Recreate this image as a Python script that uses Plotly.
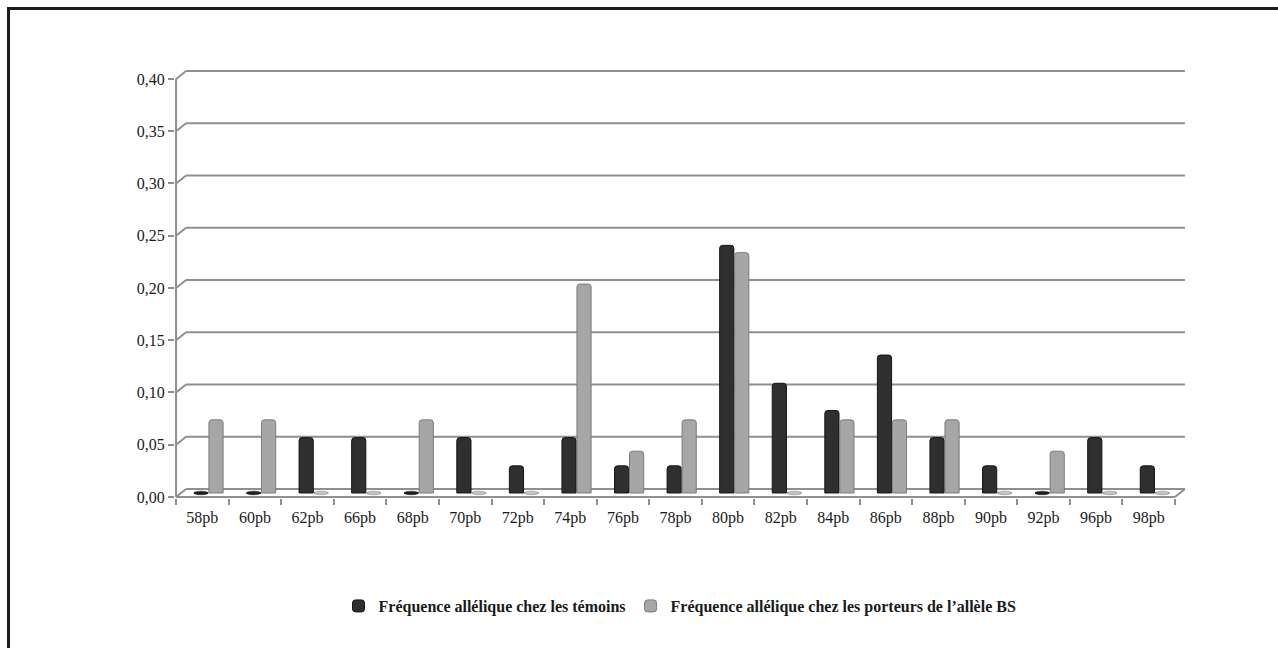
import plotly.graph_objects as go

# Allele sizes and frequencies
categories = ["58pb", "60pb", "62pb", "66pb", "68pb", "70pb", "72pb", "74pb", "76pb", "78pb",
              "80pb", "82pb", "84pb", "86pb", "88pb", "90pb", "92pb", "96pb", "98pb"]
temoins = [0, 0, 0.053, 0.053, 0, 0.053, 0.026, 0.053, 0.026, 0.026,
           0.237, 0.105, 0.079, 0.132, 0.053, 0.026, 0, 0.053, 0.026]
porteurs = [0.07, 0.07, 0, 0, 0.07, 0, 0, 0.20, 0.04, 0.07,
            0.23, 0, 0.07, 0.07, 0.07, 0, 0.04, 0, 0]
y_ticks = [0.00, 0.05, 0.10, 0.15, 0.20, 0.25, 0.30, 0.35, 0.40]
y_tick_labels = ["0,00", "0,05", "0,10", "0,15", "0,20", "0,25", "0,30", "0,35", "0,40"]
series_names = ["Fréquence allélique chez les témoins",
                "Fréquence allélique chez les porteurs de l’allèle BS"]

# Pseudo-3D box geometry (half depth of the box, in axis units)
DX = 0.095
DY = 0.0038
PADX = 0.02
PADY = 0.001
BAR_W = 0.27
OFFSETS = [-0.12, 0.165]
FILL = ["#2f2f2f", "#a6a6a6"]
EDGE = ["#151515", "#7c7c7c"]
ZERO_FILL = ["#1e1e1e", "#c4c4c4"]
GRID = "#8f8f8f"
SERIF = "Liberation Serif"

W, H = 1278, 648
ML, MR, MT, MB = 175, 92, 70, 150
n = len(categories)
ymax = y_ticks[-1]


def px_x(p):
    return (p - ML) / (W - ML - MR)


def px_y(p):
    return ((H - MB) - p) / (H - MT - MB)


fig = go.Figure()

series = [temoins, porteurs]
for k, vals in enumerate(series):
    fig.add_trace(go.Bar(
        x=[i + OFFSETS[k] for i in range(n)],
        y=vals,
        width=BAR_W,
        name="<b>" + series_names[k] + "</b>",
        marker=dict(color=FILL[k], line=dict(color=EDGE[k], width=1), cornerradius=3),
        hoverinfo="skip",
    ))

shapes = []
line_style = dict(color=GRID, width=2)
# back wall gridlines with their diagonal link to the front axis
for v in y_ticks:
    shapes.append(dict(type="line", xref="x", yref="y", layer="below",
                       x0=-0.5 + DX, x1=n - 0.5 + DX, y0=v + DY, y1=v + DY, line=line_style))
    shapes.append(dict(type="line", xref="x", yref="y", layer="below",
                       x0=-0.5 - DX, x1=-0.5 + DX, y0=v - DY, y1=v + DY, line=line_style))
# floor front edge and right edge
shapes.append(dict(type="line", xref="x", yref="y", layer="below",
                   x0=-0.5 - DX, x1=n - 0.5 - DX, y0=-DY, y1=-DY, line=line_style))
shapes.append(dict(type="line", xref="x", yref="y", layer="below",
                   x0=n - 0.5 - DX, x1=n - 0.5 + DX, y0=-DY, y1=DY, line=line_style))
# front vertical axis edge
shapes.append(dict(type="line", xref="x", yref="y", layer="below",
                   x0=-0.5 - DX, x1=-0.5 - DX, y0=-DY, y1=ymax - DY, line=line_style))

# flat discs for the zero-frequency alleles
for k, vals in enumerate(series):
    for i, v in enumerate(vals):
        if v == 0:
            xc = i + OFFSETS[k]
            shapes.append(dict(type="circle", xref="x", yref="y", layer="above",
                               x0=xc - BAR_W / 2, x1=xc + BAR_W / 2, y0=-0.0017, y1=0.0017,
                               fillcolor=ZERO_FILL[k], line=dict(color=EDGE[k], width=0.5)))

# outer frame (top and left edges)
frame = dict(color="#1c1c1c", width=3)
shapes.append(dict(type="line", xref="paper", yref="paper",
                   x0=px_x(7), x1=px_x(W), y0=px_y(8.5), y1=px_y(8.5), line=frame))
shapes.append(dict(type="line", xref="paper", yref="paper",
                   x0=px_x(8.5), x1=px_x(8.5), y0=px_y(7), y1=px_y(H), line=frame))

fig.update_layout(
    width=W, height=H,
    margin=dict(l=ML, r=MR, t=MT, b=MB, pad=0),
    paper_bgcolor="white", plot_bgcolor="white",
    barmode="overlay",
    showlegend=True,
    shapes=shapes,
    font=dict(family=SERIF, size=16, color="#1a1a1a"),
    xaxis=dict(
        range=[-0.5 - DX - PADX, n - 0.5 + DX + PADX],
        tickmode="array",
        tickvals=[i - DX for i in range(n)],
        ticktext=categories,
        ticks="outside", ticklen=0,
        ticklabelstandoff=5,
        minor=dict(tickmode="array", tickvals=[i - 0.5 - DX for i in range(n + 1)],
                   ticks="outside", ticklen=6, tickwidth=1.5, tickcolor=GRID),
        showgrid=False, zeroline=False, showline=False,
        tickfont=dict(family=SERIF, size=16, color="#1a1a1a"),
        fixedrange=True,
    ),
    yaxis=dict(
        range=[-DY - PADY, ymax + DY + PADY],
        tickmode="array",
        tickvals=[v - DY for v in y_ticks],
        ticktext=y_tick_labels,
        ticks="outside", ticklen=6, tickwidth=1.5, tickcolor=GRID,
        ticklabelstandoff=0,
        showgrid=False, zeroline=False, showline=False,
        tickfont=dict(family=SERIF, size=16, color="#1a1a1a"),
        fixedrange=True,
    ),
    legend=dict(
        orientation="h",
        xref="paper", yref="paper",
        x=px_x(680), y=px_y(606),
        xanchor="center", yanchor="middle",
        font=dict(family=SERIF, size=16, color="#1a1a1a"),
        itemwidth=30,
        bgcolor="rgba(0,0,0,0)",
    ),
)

fig.write_html("out.html")
